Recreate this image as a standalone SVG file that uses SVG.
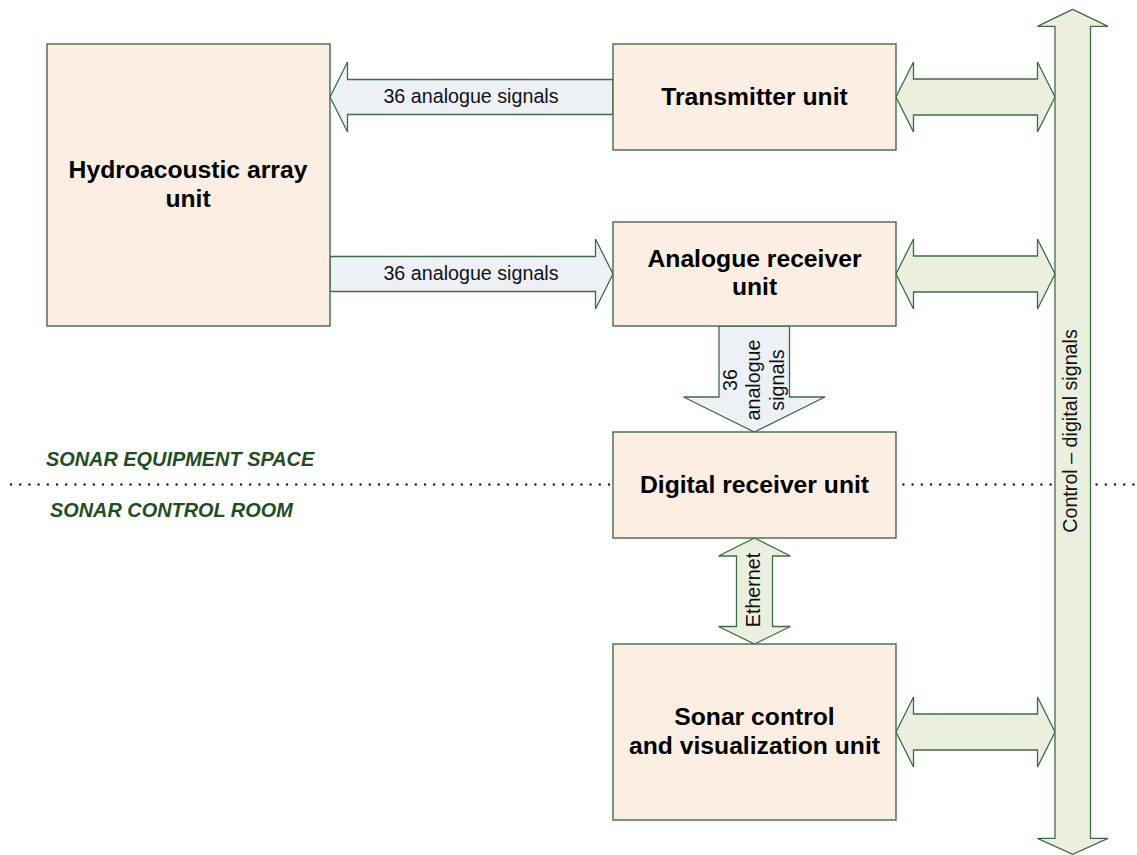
<svg xmlns="http://www.w3.org/2000/svg" width="1137" height="855" viewBox="0 0 1137 855">
<style>
.box{fill:#FDEEE3;stroke:#3F6B4A;stroke-width:1.4}
.blue{fill:#EDF1F6;stroke:#3F6B4A;stroke-width:1.3;stroke-linejoin:miter}
.green{fill:#EBEFDF;stroke:#3F6B4A;stroke-width:1.3;stroke-linejoin:miter}
.title{font-family:"Liberation Sans",Arial,sans-serif;font-weight:bold;font-size:24.7px;fill:#000;text-anchor:middle}
.lbl{font-family:"Liberation Sans",Arial,sans-serif;font-size:19.7px;fill:#111;text-anchor:middle}
.zone{font-family:"Liberation Sans",Arial,sans-serif;font-weight:bold;font-style:italic;font-size:19.9px;fill:#1F4F1F}
.dots{stroke:#222;stroke-width:2.5;stroke-linecap:round;stroke-dasharray:0 9.2;fill:none}
</style>
<rect width="1137" height="855" fill="#fff"/>
<line class="dots" x1="11" y1="484.5" x2="1137" y2="484.5"/>
<text class="zone" x="46" y="466">SONAR EQUIPMENT SPACE</text>
<text class="zone" x="50" y="517">SONAR CONTROL ROOM</text>
<g id="connectors">
<path class="blue" d="M330,97 L347.5,62 L347.5,79.5 L613,79.5 L613,114.5 L347.5,114.5 L347.5,132 Z"/>
<text class="lbl" x="471" y="103">36 analogue signals</text>
<path class="blue" d="M330,256.5 L595.5,256.5 L595.5,239 L613,274 L595.5,309 L595.5,291.5 L330,291.5 Z"/>
<text class="lbl" x="471" y="280">36 analogue signals</text>
<path class="blue" d="M719,326 L719,397 L683.5,397 L754.3,432 L825,397 L789.5,397 L789.5,326 Z"/>
<text class="lbl" transform="translate(737,380) rotate(-90)">36</text>
<text class="lbl" transform="translate(760,380) rotate(-90)">analogue</text>
<text class="lbl" transform="translate(783.5,380) rotate(-90)">signals</text>
<path class="green" d="M754.5,538 L790.5,556 L772.5,556 L772.5,626.5 L790.5,626.5 L754.5,644 L718.5,626.5 L736.5,626.5 L736.5,556 L718.5,556 Z"/>
<text class="lbl" transform="translate(760,590) rotate(-90)">Ethernet</text>
<path class="green" d="M896,97 L913.5,62 L913.5,79 L1037.5,79 L1037.5,62 L1055,97 L1037.5,132 L1037.5,115 L913.5,115 L913.5,132 Z"/>
<path class="green" d="M896,274 L913.5,239 L913.5,256 L1037.5,256 L1037.5,239 L1055,274 L1037.5,309 L1037.5,292 L913.5,292 L913.5,309 Z"/>
<path class="green" d="M896,732 L913.5,697 L913.5,714 L1037.5,714 L1037.5,697 L1055,732 L1037.5,767 L1037.5,750 L913.5,750 L913.5,767 Z"/>
<path class="green" d="M1072.7,9.3 L1108,26.3 L1090.5,26.3 L1090.5,838.3 L1108,838.3 L1072.7,854.3 L1037.4,838.3 L1055,838.3 L1055,26.3 L1037.4,26.3 Z"/>
<text class="lbl" transform="translate(1077,431) rotate(-90)">Control – digital signals</text>
</g>
<g id="hydro">
<rect class="box" x="47" y="44" width="283" height="282"/>
<text class="title" x="188" y="178">Hydroacoustic array</text>
<text class="title" x="188" y="207">unit</text>
</g>
<g id="transmitter">
<rect class="box" x="613" y="44" width="283" height="106"/>
<text class="title" x="754.5" y="105">Transmitter unit</text>
</g>
<g id="analogue">
<rect class="box" x="613" y="222" width="283" height="104"/>
<text class="title" x="754.5" y="266.5">Analogue receiver</text>
<text class="title" x="754.5" y="295">unit</text>
</g>
<g id="digital">
<rect class="box" x="613" y="432" width="283" height="106"/>
<text class="title" x="754.5" y="492.5">Digital receiver unit</text>
</g>
<g id="sonar">
<rect class="box" x="613" y="644" width="283" height="176"/>
<text class="title" x="754.5" y="725">Sonar control</text>
<text class="title" x="754.5" y="754">and visualization unit</text>
</g>
</svg>
